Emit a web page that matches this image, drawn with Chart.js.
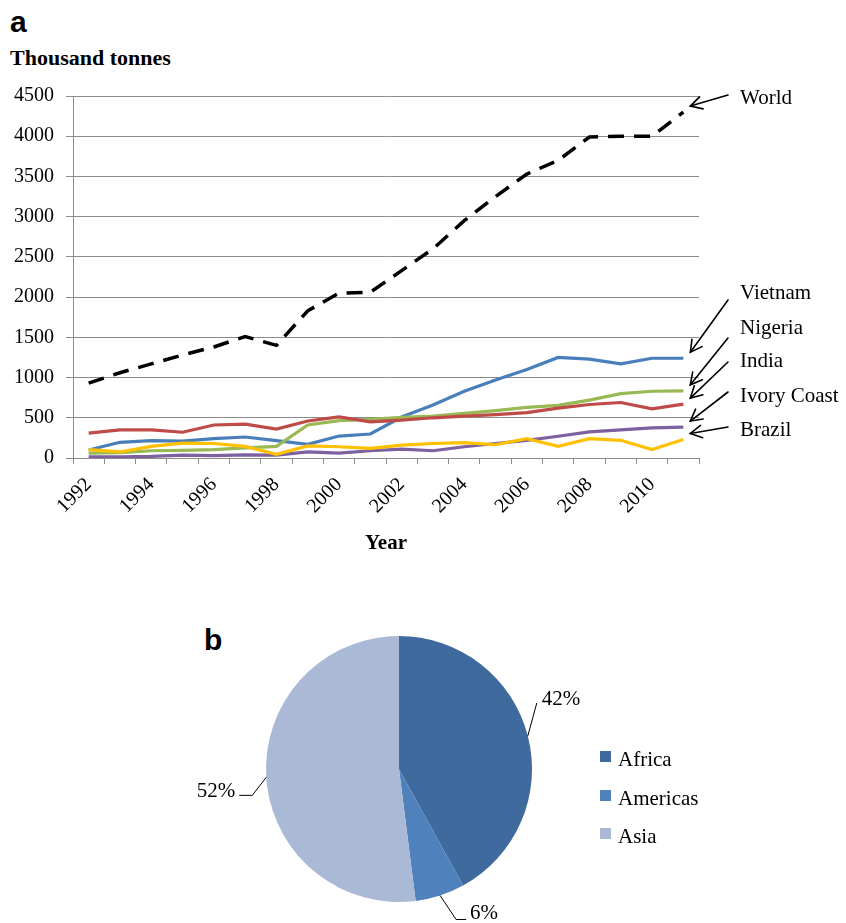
<!DOCTYPE html>
<html>
<head>
<meta charset="utf-8">
<script src="https://cdn.jsdelivr.net/npm/chart.js@4.4.0/dist/chart.umd.min.js"></script>
<style>
  html, body { margin: 0; padding: 0; background: #fff; width: 846px; height: 923px; overflow: hidden; position: relative; }
  .txt { position: absolute; white-space: nowrap; color: #000; }
  .serif { font-family: 'Liberation Serif', 'Times New Roman', serif; }
  .panel { font-family: 'Liberation Sans', Arial, sans-serif; font-weight: bold; }
  canvas { position: absolute; }
  .lg-box { position: absolute; width: 11px; height: 11px; }
</style>
</head>
<body>
<div class="txt panel" style="left:10px; top:7px; font-size:30px; line-height:30px;">a</div>
<div class="txt serif" style="left:10px; top:47px; font-size:22px; line-height:22px; font-weight:bold;">Thousand tonnes</div>
<div class="txt panel" style="left:204px; top:625px; font-size:30px; line-height:30px;">b</div>

<canvas id="lineChart" width="846" height="484" style="left:0; top:72px;"></canvas>
<canvas id="pieChart" width="500" height="303" style="left:150px; top:620px;"></canvas>
<div id="annot"></div>
<div id="legend"></div>

<script>
// ---------- Data (thousand tonnes) ----------
const years = ['1992','1993','1994','1995','1996','1997','1998','1999','2000','2001',
               '2002','2003','2004','2005','2006','2007','2008','2009','2010','2011'];
const world      = [930, 1060, 1170, 1280, 1380, 1510, 1400, 1830, 2050, 2060, 2330, 2600, 2950, 3250, 3530, 3700, 3990, 4000, 4000, 4300];
const vietnam    = [100, 195, 215, 210, 240, 261, 215, 170, 273, 298, 510, 660, 830, 970, 1100, 1250, 1230, 1170, 1240, 1240];
const nigeria    = [60, 66, 90, 95, 105, 125, 145, 410, 465, 480, 505, 520, 555, 590, 630, 655, 720, 800, 830, 835];
const india      = [310, 350, 350, 320, 410, 420, 360, 460, 510, 450, 470, 500, 520, 540, 565, 620, 665, 690, 610, 670];
const ivoryCoast = [15, 15, 20, 35, 30, 40, 35, 75, 60, 90, 110, 90, 140, 180, 220, 270, 325, 350, 375, 385];
const brazil     = [105, 75, 145, 185, 180, 145, 45, 150, 140, 120, 160, 180, 190, 165, 240, 145, 240, 220, 105, 230];
const yTicks     = [0, 500, 1000, 1500, 2000, 2500, 3000, 3500, 4000, 4500];

const regions    = ['Africa', 'Americas', 'Asia'];
const shares     = [42, 6, 52];

// ---------- Styles ----------
const SERIF = "'Liberation Serif', 'Times New Roman', serif";
const GRID = '#8c8c8c';
const LINE_TOP = 72; // page offset of the line-chart canvas
const seriesDefs = [
  { name: 'Brazil',      data: brazil,     color: '#FFC000', labelTop: 419, startY: 427 },
  { name: 'Ivory Coast', data: ivoryCoast, color: '#7D60A0', labelTop: 385, startY: 392 },
  { name: 'India',       data: india,      color: '#BE4B48', labelTop: 350, startY: 362 },
  { name: 'Nigeria',     data: nigeria,    color: '#98B954', labelTop: 317, startY: 338 },
  { name: 'Vietnam',     data: vietnam,    color: '#4A7EBB', labelTop: 282, startY: 300 },
  { name: 'World',       data: world,      color: '#000000', labelTop: 87,  startY: 95, dash: [16, 10] }
];
const pieColors = ['#3F6A9E', '#4F81BD', '#A9B9D6'];

// ---------- Annotation labels (HTML text) ----------
const annot = document.getElementById('annot');
seriesDefs.forEach(s => {
  const d = document.createElement('div');
  d.className = 'txt serif';
  d.style.cssText = `left:740px; top:${s.labelTop}px; font-size:21px; line-height:21px;`;
  d.textContent = s.name;
  annot.appendChild(d);
});

// ---------- Legend (HTML) ----------
const legend = document.getElementById('legend');
regions.forEach((r, i) => {
  const top = 751 + i * 38.5;
  const b = document.createElement('div');
  b.className = 'lg-box';
  b.style.cssText = `left:600px; top:${top}px; background:${pieColors[i]};`;
  legend.appendChild(b);
  const t = document.createElement('div');
  t.className = 'txt serif';
  t.style.cssText = `left:618px; top:${top - 2}px; font-size:21px; line-height:21px;`;
  t.textContent = r;
  legend.appendChild(t);
});

// ---------- Arrow plugin (tips follow the last data points) ----------
const arrowPlugin = {
  id: 'arrows',
  afterDraw(chart) {
    const ctx = chart.ctx;
    const xs = chart.scales.x, ys = chart.scales.y;
    const lastIdx = years.length - 1;
    ctx.save();
    ctx.strokeStyle = '#000';
    ctx.lineWidth = 1.6;
    ctx.lineCap = 'round';
    seriesDefs.forEach(s => {
      const tx = xs.getPixelForValue(lastIdx) + 7;
      const ty = ys.getPixelForValue(s.data[lastIdx]) - 6;
      const sx = 728, sy = s.startY - LINE_TOP;
      ctx.beginPath();
      ctx.moveTo(sx, sy);
      ctx.lineTo(tx, ty);
      ctx.stroke();
      const ang = Math.atan2(sy - ty, sx - tx);
      const L = 13, a = 0.5;
      ctx.beginPath();
      ctx.moveTo(tx + L * Math.cos(ang + a), ty + L * Math.sin(ang + a));
      ctx.lineTo(tx, ty);
      ctx.lineTo(tx + L * Math.cos(ang - a), ty + L * Math.sin(ang - a));
      ctx.stroke();
    });
    ctx.restore();
  }
};

// ---------- Line chart ----------
new Chart(document.getElementById('lineChart'), {
  type: 'line',
  data: {
    labels: years,
    datasets: seriesDefs.map(s => ({
      label: s.name,
      data: s.data,
      borderColor: s.color,
      backgroundColor: s.color,
      borderWidth: s.dash ? 3.5 : 3.2,
      borderDash: s.dash || [],
      pointRadius: 0,
      tension: 0,
      fill: false
    }))
  },
  options: {
    responsive: false,
    animation: false,
    devicePixelRatio: 1,
    layout: { padding: { top: 8, right: 147, left: 0, bottom: 0 } },
    plugins: { legend: { display: false }, tooltip: { enabled: false } },
    scales: {
      x: {
        type: 'category',
        offset: true,
        afterFit: s => { s.height = 98; },
        grid: { offset: true, drawOnChartArea: false, drawTicks: true, tickLength: 6, color: GRID },
        border: { color: GRID, width: 1 },
        ticks: {
          autoSkip: false, minRotation: 45, maxRotation: 45, padding: 9,
          color: '#000', font: { family: SERIF, size: 20 },
          callback: (v, i) => (i % 2 === 0 ? years[i] : '')
        },
        title: { display: true, text: 'Year', color: '#000', font: { family: SERIF, size: 21, weight: 'bold' }, padding: { top: 0, bottom: 0 } }
      },
      y: {
        min: 0, max: 4500,
        afterFit: s => { s.width = 73; },
        afterBuildTicks: s => { s.ticks = yTicks.map(v => ({ value: v })); },
        grid: { color: GRID, lineWidth: 1, tickLength: 7 },
        border: { color: GRID, width: 1 },
        ticks: { color: '#000', padding: 12, font: { family: SERIF, size: 20 }, callback: v => String(v) }
      }
    }
  },
  plugins: [arrowPlugin]
});

// ---------- Pie labels plugin ----------
const pieLabelGeom = [
  { leg: [9, -33],  hor: 0,   tdx: 5,  tdy: 2, align: 'left' },
  { leg: [16, 24],  hor: 10,  tdx: 4,  tdy: 0, align: 'left' },
  { leg: [-14, 18], hor: -13, tdx: -4, tdy: 2, align: 'right' }
];
const pieLabelPlugin = {
  id: 'pieLabels',
  afterDatasetsDraw(chart) {
    const ctx = chart.ctx;
    const meta = chart.getDatasetMeta(0);
    ctx.save();
    ctx.strokeStyle = '#000';
    ctx.lineWidth = 1;
    ctx.fillStyle = '#000';
    ctx.font = `21px ${SERIF}`;
    ctx.textBaseline = 'alphabetic';
    meta.data.forEach((arc, i) => {
      const { x, y, startAngle, endAngle, outerRadius } = arc.getProps(['x', 'y', 'startAngle', 'endAngle', 'outerRadius'], true);
      const mid = (startAngle + endAngle) / 2;
      const g = pieLabelGeom[i];
      const p0x = x + outerRadius * Math.cos(mid), p0y = y + outerRadius * Math.sin(mid);
      const p1x = p0x + g.leg[0], p1y = p0y + g.leg[1];
      const p2x = p1x + g.hor, p2y = p1y;
      ctx.beginPath();
      ctx.moveTo(p0x, p0y);
      ctx.lineTo(p1x, p1y);
      if (g.hor) ctx.lineTo(p2x, p2y);
      ctx.stroke();
      ctx.textAlign = g.align;
      ctx.fillText(shares[i] + '%', p2x + g.tdx, p2y + g.tdy);
    });
    ctx.restore();
  }
};

// ---------- Pie chart ----------
new Chart(document.getElementById('pieChart'), {
  type: 'pie',
  data: {
    labels: regions,
    datasets: [{ data: shares, backgroundColor: pieColors, borderWidth: 0 }]
  },
  options: {
    responsive: false,
    animation: false,
    devicePixelRatio: 1,
    layout: { padding: { left: 116, right: 118, top: 16, bottom: 21 } },
    plugins: { legend: { display: false }, tooltip: { enabled: false } }
  },
  plugins: [pieLabelPlugin]
});
</script>
</body>
</html>
